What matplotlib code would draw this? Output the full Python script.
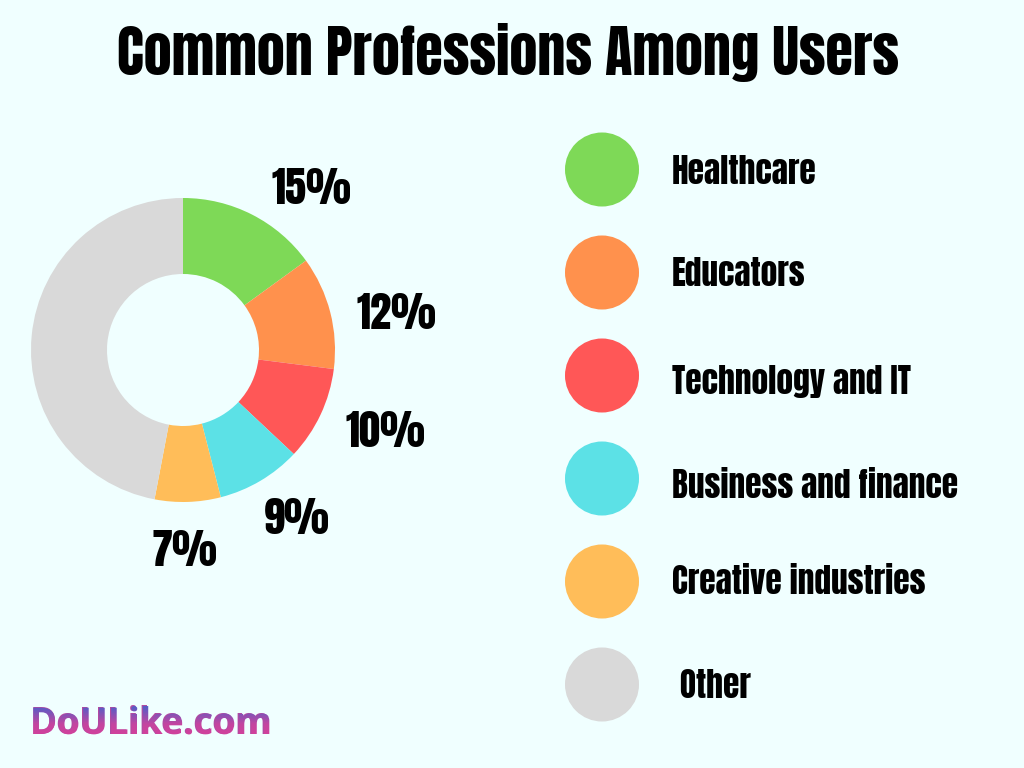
import matplotlib
matplotlib.use("Agg")
import matplotlib.pyplot as plt
from matplotlib import transforms
from matplotlib.font_manager import FontProperties
from matplotlib.textpath import TextPath
from matplotlib.patches import PathPatch
from matplotlib.colors import LinearSegmentedColormap
import numpy as np

categories = ["Healthcare", "Educators", "Technology and IT",
              "Business and finance", "Creative industries", " Other"]
values = [15, 12, 10, 9, 7, 47]
pct_labels = ["15%", "12%", "10%", "9%", "7%", ""]
colors = ["#7ED957", "#FF914D", "#FF5757", "#5CE1E6", "#FFBD59", "#D9D9D9"]
title = "Common Professions Among Users"
brand = "DoULike.com"
BG = "#F0FFFF"
FONT = ["Anton", "DejaVu Sans"]

# label layout (radial distance in radii, angle shift in degrees)
label_dist = [1.375, 1.425, 1.425, 1.32, 1.30, 1.3]
label_shift = [-11, -4, 4, 4, -1.5, 0]
# legend text baseline offsets below circle centers (px)
legend_base = [14, 13, 18, 20, 12, 13]

W, H = 1024, 768
fig = plt.figure(figsize=(W / 100, H / 100), dpi=100, facecolor=BG)

def px_axes(x0, y0, w, h):
    return fig.add_axes([x0 / W, 1 - (y0 + h) / H, w / W, h / H])

# donut
cx, cy, R, half = 183, 350, 152, 240
ax = px_axes(cx - half, cy - half, 2 * half, 2 * half)
ax.set_facecolor("none")
lim = half / R
wedges, _ = ax.pie(values, colors=colors, startangle=90, counterclock=False,
                   radius=1, wedgeprops=dict(width=0.5, linewidth=0))
pct_tr = transforms.offset_copy(ax.transData, fig=fig, y=-18.5, units="dots")
for w, lab, d, sh in zip(wedges, pct_labels, label_dist, label_shift):
    if not lab:
        continue
    ang = np.deg2rad((w.theta1 + w.theta2) / 2 + sh)
    ax.text(d * np.cos(ang), d * np.sin(ang), lab, fontsize=30.5, family=FONT,
            ha="center", va="baseline", transform=pct_tr, clip_on=False)
ax.set_xlim(-lim, lim); ax.set_ylim(-lim, lim)
ax.set_aspect("equal")
ax.axis("off")

# legend
lx = px_axes(560, 118, 440, 618)
lx.set_facecolor("none")
idx = np.arange(len(categories))
lx.scatter(np.full(len(idx), 42), idx, s=2840, c=colors, linewidths=0)
for i, c, off in zip(idx, categories, legend_base):
    tr = transforms.offset_copy(lx.transData, fig=fig, y=-off, units="dots")
    lx.text(112, i, c, fontsize=24, va="baseline", ha="left", family=FONT,
            transform=tr)
lx.set_xlim(0, 440); lx.set_ylim(len(idx) - 0.5, -0.5)
lx.axis("off")

# title
fig.text(508 / W, 1 - 75 / H, title, ha="center", va="baseline", fontsize=40.4,
         family=FONT)

# brand with vertical gradient
ov = fig.add_axes([0, 0, 1, 1], zorder=10)
ov.set_xlim(0, W); ov.set_ylim(0, H); ov.axis("off"); ov.set_facecolor("none")
bsize_pt = 26.5
bx, by = 30, H - 734
prop = FontProperties(family=["Open Sans", "DejaVu Sans"], weight="bold")
prop.set_size(bsize_pt)
ov.text(bx, by, brand, fontproperties=prop, color="#B24AA2",
        ha="left", va="baseline")
tp = TextPath((0, 0), brand, size=bsize_pt * 100 / 72, prop=prop)
patch = PathPatch(tp, transform=transforms.Affine2D().translate(bx, by) + ov.transData,
                  facecolor="none", edgecolor="none")
ov.add_patch(patch)
cmap = LinearSegmentedColormap.from_list("g", ["#DC3E98", "#C445A0", "#4660CC"])
grad = np.linspace(0, 1, 64).reshape(-1, 1)
im = ov.imshow(grad, cmap=cmap, origin="lower", aspect="auto",
               extent=[bx - 5, bx + 280, by - 10, by + 30], zorder=11)
im.set_clip_path(patch)
ov.set_xlim(0, W); ov.set_ylim(0, H)

fig.savefig("out.png", dpi=100, facecolor=BG)
